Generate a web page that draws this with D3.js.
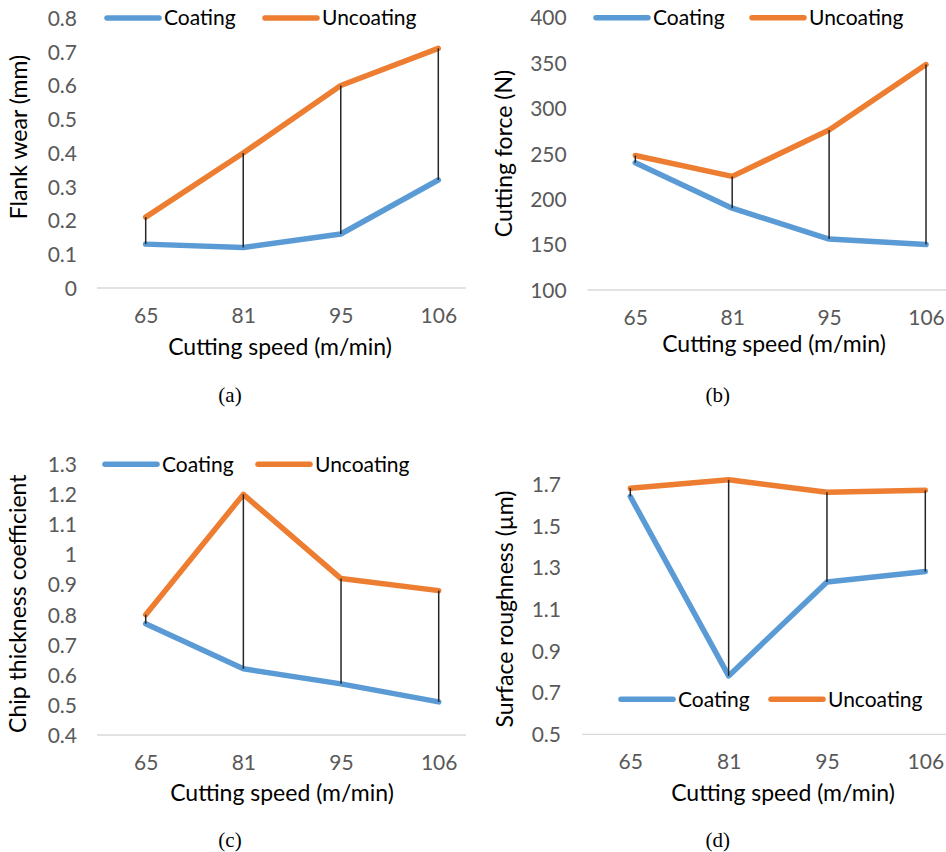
<!DOCTYPE html>
<html>
<head>
<meta charset="utf-8">
<script src="https://cdn.jsdelivr.net/npm/d3@7"></script>
<style>
  body { margin: 0; background: #fff; }
  svg { display: block; }
</style>
</head>
<body>
<svg id="fig" width="946" height="852"></svg>
<script>
// Cutting speed categories shared by all four panels
const speeds = ["65", "81", "95", "106"];
const seriesNames = ["Coating", "Uncoating"];
const seriesColors = ["#5b9bd5", "#ed7d31"];

// (a) Flank wear (mm)
const flankCoating   = [0.13, 0.12, 0.16, 0.32];
const flankUncoating = [0.21, 0.40, 0.60, 0.71];
const flankTicks     = [0, 0.1, 0.2, 0.3, 0.4, 0.5, 0.6, 0.7, 0.8];

// (b) Cutting force (N)
const forceCoating   = [240, 190, 156, 150];
const forceUncoating = [248, 225, 276, 348];
const forceTicks     = [100, 150, 200, 250, 300, 350, 400];

// (c) Chip thickness coefficient
const chipCoating    = [0.77, 0.62, 0.57, 0.51];
const chipUncoating  = [0.80, 1.20, 0.92, 0.88];
const chipTicks      = [0.4, 0.5, 0.6, 0.7, 0.8, 0.9, 1, 1.1, 1.2, 1.3];

// (d) Surface roughness (µm)
const roughCoating   = [1.64, 0.78, 1.23, 1.28];
const roughUncoating = [1.68, 1.72, 1.66, 1.67];
const roughTicks     = [0.5, 0.7, 0.9, 1.1, 1.3, 1.5, 1.7];

const SANS = "Lato, 'Open Sans', sans-serif";
const SERIF = "'Liberation Serif', 'Times New Roman', serif";
const TICK_SIZE = 21, LEGEND_SIZE = 21, TITLE_SIZE = 23, CAPTION_SIZE = 21;

const svg = d3.select("#fig");

function drawPanel(p) {
  const g = svg.append("g");
  const x = d3.scalePoint().domain(speeds).range(p.xRange);
  const y = d3.scaleLinear().domain([p.ticks[0], p.ticks[p.ticks.length - 1]]).range(p.yRange);

  // category axis baseline
  g.append("line")
    .attr("x1", p.axisSpan[0]).attr("x2", p.axisSpan[1])
    .attr("y1", y(p.ticks[0])).attr("y2", y(p.ticks[0]))
    .attr("stroke", "#d9d9d9").attr("stroke-width", 1.3);

  // value axis labels
  const ya = g.append("g")
    .attr("transform", `translate(${p.yLabelX},0)`)
    .call(d3.axisLeft(y).tickValues(p.ticks).tickSize(0).tickPadding(0).tickFormat(d => String(d)));
  ya.select(".domain").remove();
  ya.selectAll("text")
    .attr("font-family", SANS).attr("font-size", TICK_SIZE).attr("fill", "#595959")
    .attr("dy", "0.35em");

  // category labels
  const xa = g.append("g")
    .attr("transform", `translate(0,${p.xLabelY})`)
    .call(d3.axisBottom(x).tickSize(0).tickPadding(0));
  xa.select(".domain").remove();
  xa.selectAll("text")
    .attr("font-family", SANS).attr("font-size", TICK_SIZE).attr("fill", "#595959")
    .attr("y", 0).attr("dy", "0.35em");

  // series lines
  const line = d3.line().x((d, i) => x(speeds[i])).y(d => y(d));
  p.series.forEach((vals, k) => {
    g.append("path")
      .datum(vals)
      .attr("d", line)
      .attr("fill", "none")
      .attr("stroke", seriesColors[k])
      .attr("stroke-width", 5.5)
      .attr("stroke-linejoin", "round")
      .attr("stroke-linecap", "round");
  });

  // high-low lines joining the two series at each speed
  g.append("g").selectAll("line")
    .data(speeds)
    .join("line")
    .attr("x1", d => x(d)).attr("x2", d => x(d))
    .attr("y1", (d, i) => y(p.series[0][i]))
    .attr("y2", (d, i) => y(p.series[1][i]))
    .attr("stroke", "#262626").attr("stroke-width", 1.5);

  // legend
  seriesNames.forEach((name, k) => {
    const sx = p.legend.x[k];
    g.append("line")
      .attr("x1", sx).attr("x2", sx + 52)
      .attr("y1", p.legend.y).attr("y2", p.legend.y)
      .attr("stroke", seriesColors[k]).attr("stroke-width", 5.5)
      .attr("stroke-linecap", "round");
    g.append("text")
      .attr("x", sx + 57).attr("y", p.legend.y)
      .attr("dy", "0.35em")
      .attr("font-family", SANS).attr("font-size", LEGEND_SIZE).attr("fill", "#000")
      .text(name);
  });

  // axis titles
  g.append("text")
    .attr("transform", `translate(${p.yTitle[0]},${p.yTitle[1]}) rotate(-90)`)
    .attr("text-anchor", "middle").attr("dy", "0.35em")
    .attr("font-family", SANS).attr("font-size", TITLE_SIZE).attr("fill", "#000")
    .text(p.yTitleText);
  g.append("text")
    .attr("x", p.xTitle[0]).attr("y", p.xTitle[1])
    .attr("text-anchor", "middle").attr("dy", "0.35em")
    .attr("font-family", SANS).attr("font-size", TITLE_SIZE).attr("fill", "#000")
    .text("Cutting speed (m/min)");

  // panel caption
  g.append("text")
    .attr("x", p.caption[0]).attr("y", p.caption[1])
    .attr("text-anchor", "middle").attr("dy", "0.35em")
    .attr("font-family", SERIF).attr("font-size", CAPTION_SIZE).attr("fill", "#000")
    .text(p.captionText);
}

drawPanel({
  series: [flankCoating, flankUncoating], ticks: flankTicks,
  xRange: [145.7, 438.3], yRange: [288, 18], axisSpan: [97, 466],
  yLabelX: 77, xLabelY: 315.7,
  legend: { y: 18, x: [107, 265] },
  yTitle: [19, 137], yTitleText: "Flank wear (mm)",
  xTitle: [280, 346.5], caption: [230, 395], captionText: "(a)"
});

drawPanel({
  series: [forceCoating, forceUncoating], ticks: forceTicks,
  xRange: [635.3, 926], yRange: [290, 17.3], axisSpan: [587.5, 946],
  yLabelX: 566.7, xLabelY: 317.7,
  legend: { y: 17.7, x: [596, 752] },
  yTitle: [504, 153.5], yTitleText: "Cutting force (N)",
  xTitle: [774, 343.5], caption: [717.7, 395], captionText: "(b)"
});

drawPanel({
  series: [chipCoating, chipUncoating], ticks: chipTicks,
  xRange: [145.7, 438.7], yRange: [735, 464.3], axisSpan: [97, 466],
  yLabelX: 77, xLabelY: 762.7,
  legend: { y: 464.3, x: [105, 258] },
  yTitle: [18, 603.7], yTitleText: "Chip thickness coefficient",
  xTitle: [282, 793.3], caption: [230, 840], captionText: "(c)"
});

drawPanel({
  series: [roughCoating, roughUncoating], ticks: roughTicks,
  xRange: [630.3, 925.3], yRange: [734.3, 484], axisSpan: [582, 946],
  yLabelX: 561, xLabelY: 761.7,
  legend: { y: 699.3, x: [621, 771] },
  yTitle: [505, 609], yTitleText: "Surface roughness (\u00b5m)",
  xTitle: [783, 793.3], caption: [717.7, 840], captionText: "(d)"
});
</script>
</body>
</html>
